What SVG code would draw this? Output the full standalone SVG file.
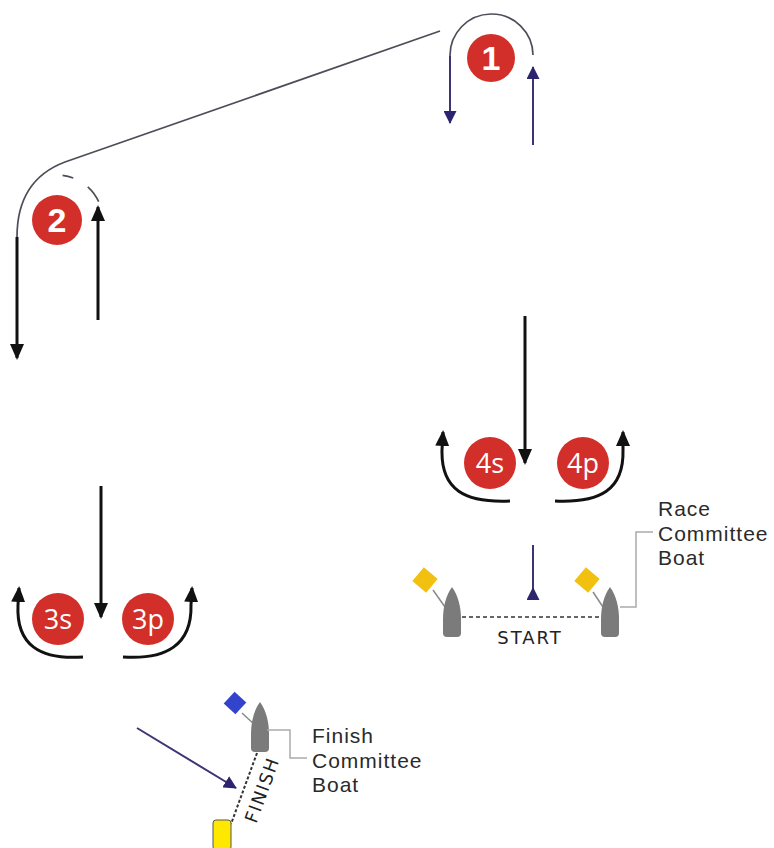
<svg xmlns="http://www.w3.org/2000/svg" xmlns:xlink="http://www.w3.org/1999/xlink" width="774" height="848" viewBox="0 0 774 848">
<defs>
<style>
.mark{fill:#d32f2a}
.num{fill:#fff;font-family:"Liberation Sans",Arial,sans-serif;font-weight:bold;font-size:34px;text-anchor:middle}
.lbl{fill:#fff;font-family:"Open Sans","Liberation Sans",sans-serif;font-size:27px;text-anchor:middle}
.blk{fill:none;stroke:#111;stroke-width:3}
.navy{fill:none;stroke:#3b3475;stroke-width:2}
.gray{fill:none;stroke:#4d4d5a;stroke-width:1.7}
.boat{fill:#7b7b7b}
.staff{stroke:#8a8a8a;stroke-width:1.5}
.brk{fill:none;stroke:#aaa;stroke-width:1.5}
.cap{font-family:"Liberation Sans",Arial,sans-serif;font-size:21px;letter-spacing:1px;fill:#2a2a2a}
.lineLbl{font-family:"DejaVu Sans","Liberation Sans",sans-serif;font-size:18px;fill:#222}
</style>
<marker id="ab" markerUnits="userSpaceOnUse" viewBox="0 0 16 14" markerWidth="16" markerHeight="14" refX="14" refY="7" orient="auto">
<path d="M0,0 L16,7 L0,14 Z" fill="#111"/>
</marker>
<marker id="an" markerUnits="userSpaceOnUse" viewBox="0 0 13 13" markerWidth="13" markerHeight="13" refX="12" refY="6.5" orient="auto">
<path d="M0,0 L13,6.5 L0,13 Z" fill="#2d2470"/>
</marker>
<path id="boat" d="M0,0 C6,8 9,20 9,32 L9,46 Q9,50 5,50 L-5,50 Q-9,50 -9,46 L-9,32 C-9,20 -6,8 0,0 Z"/>
</defs>
<rect width="774" height="848" fill="#fff"/>

<g id="connectors">
<path class="gray" d="M440,31 L65,162 Q17,180 17,237"/>
<path class="gray" d="M533,55 A41.5,41.5 0 0 0 450,56"/>
<path class="navy" d="M450,56 L450,123" marker-end="url(#an)"/>
<path class="navy" d="M533,145 L533,67" marker-end="url(#an)"/>
<path fill="none" stroke="#4d4d5a" stroke-width="1.7" stroke-dasharray="11 17 19" d="M62.6,175.3 A46,46 0 0 1 98.7,201.6"/>
<path class="blk" d="M17,237 L17,358" marker-end="url(#ab)"/>
<path class="blk" d="M98,320 L98,207" marker-end="url(#ab)"/>
<path class="blk" d="M101,486 L101,617" marker-end="url(#ab)"/>
<path class="blk" d="M525,316 L525,463" marker-end="url(#ab)"/>
<path class="blk" d="M83,657 C40,660 16,645 18,605 L19,588" marker-end="url(#ab)"/>
<path class="blk" d="M123,657 C166,660 192,645 191,605 L192,588" marker-end="url(#ab)"/>
<path class="blk" d="M510,501 C465,503 441,490 442,450 L443,432" marker-end="url(#ab)"/>
<path class="blk" d="M555,501 C600,503 624,490 623,450 L623,432" marker-end="url(#ab)"/>
<path class="navy" d="M533,545 L533,600 L533,588" marker-end="url(#an)"/>
<path class="navy" stroke="#555a75" d="M137,728 L236,788" marker-end="url(#an)"/>
</g>

<g id="mark1">
<circle class="mark" cx="491" cy="58" r="24"/>
<text class="num" x="491" y="70">1</text>
</g>
<g id="mark2">
<circle class="mark" cx="57" cy="220" r="25"/>
<text class="num" x="57" y="232">2</text>
</g>
<g id="mark3s">
<circle class="mark" cx="58" cy="619" r="26"/>
<text class="lbl" x="58" y="629">3s</text>
</g>
<g id="mark3p">
<circle class="mark" cx="148" cy="619" r="26"/>
<text class="lbl" x="148" y="629">3p</text>
</g>
<g id="mark4s">
<circle class="mark" cx="490" cy="463" r="26"/>
<text class="lbl" x="490" y="473">4s</text>
</g>
<g id="mark4p">
<circle class="mark" cx="583" cy="463" r="26"/>
<text class="lbl" x="583" y="473">4p</text>
</g>

<g id="start-line">
<line x1="462" y1="617" x2="600" y2="617" stroke="#666" stroke-width="2" stroke-dasharray="4 3"/>
<text class="lineLbl" x="530" y="644" text-anchor="middle" letter-spacing="2">START</text>
</g>

<g id="pin-boat">
<line class="staff" x1="433" y1="590" x2="445" y2="607"/>
<rect x="-9" y="-9" width="18" height="18" fill="#f2c10f" transform="translate(425,580) rotate(-50)"/>
<use href="#boat" xlink:href="#boat" x="452" y="587" class="boat"/>
</g>

<g id="race-committee-boat">
<line class="staff" x1="593" y1="592" x2="603" y2="607"/>
<rect x="-9" y="-9" width="18" height="18" fill="#f2c10f" transform="translate(587,580) rotate(-50)"/>
<use href="#boat" xlink:href="#boat" x="610" y="587" class="boat"/>
<path class="brk" d="M620,607 L636,607 L636,532 L653,532"/>
<text class="cap"><tspan x="658" y="516">Race</tspan><tspan x="658" y="540.5">Committee</tspan><tspan x="658" y="565">Boat</tspan></text>
</g>

<g id="finish-committee-boat">
<line class="staff" x1="242" y1="713" x2="255" y2="725"/>
<rect x="-8" y="-8" width="16" height="16" fill="#3344cc" transform="translate(235,703) rotate(-47)"/>
<use href="#boat" xlink:href="#boat" x="260" y="702" class="boat"/>
<path class="brk" d="M267,730 L290,730 L290,758 L307,758"/>
<text class="cap"><tspan x="312" y="743">Finish</tspan><tspan x="312" y="767.5">Committee</tspan><tspan x="312" y="792">Boat</tspan></text>
</g>

<g id="finish-line">
<line x1="257" y1="753" x2="231" y2="824" stroke="#333" stroke-width="2" stroke-dasharray="3 2"/>
<text class="lineLbl" transform="translate(268,792) rotate(-70)" text-anchor="middle" letter-spacing="1.5">FINISH</text>
</g>

<g id="finish-mark">
<rect x="213" y="820" width="18" height="30" rx="3" fill="#ffe800" stroke="#555" stroke-width="1"/>
</g>
</svg>
